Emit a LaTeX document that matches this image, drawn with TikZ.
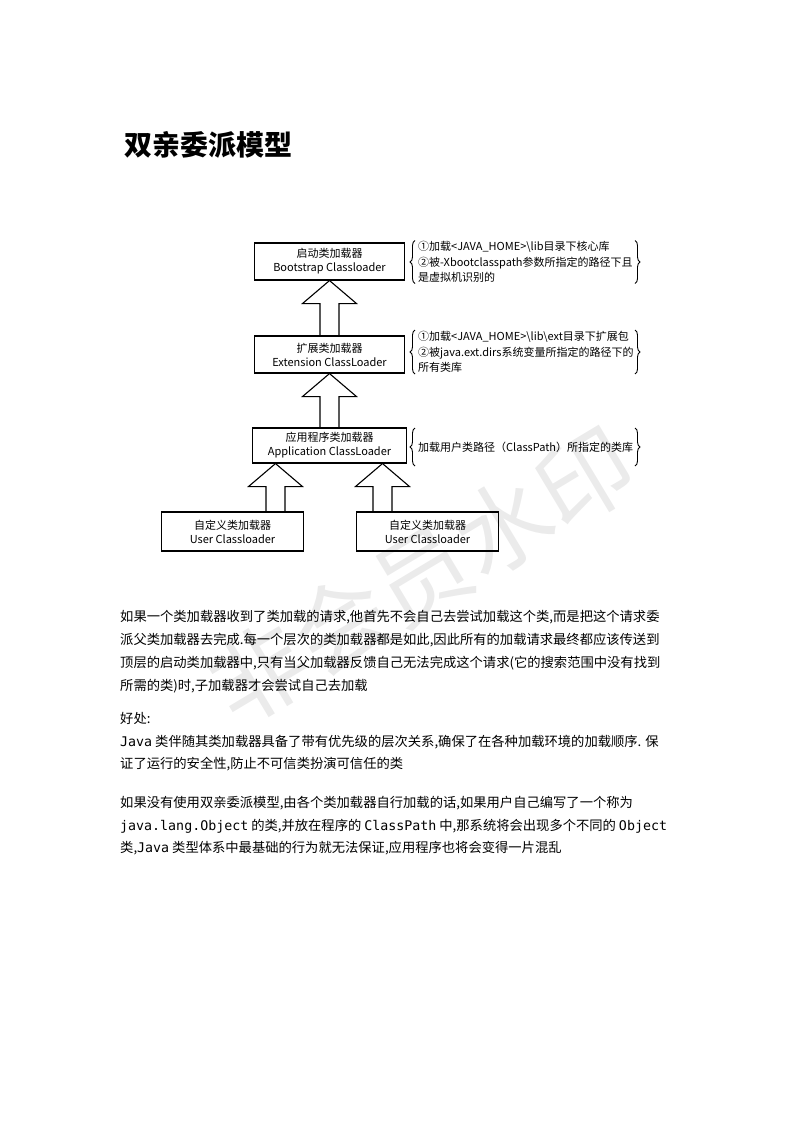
\documentclass[tikz,border=0pt]{standalone}
\usepackage{fontspec}
\setmainfont{Noto Sans CJK SC}
\setmonofont{DejaVu Sans Mono}
\usetikzlibrary{positioning,calc,decorations.pathreplacing}

\tikzset{
  loader/.style={draw, line width=1.1pt, minimum width=150pt, minimum height=37pt,
    align=center, inner sep=0pt, font=\fontsize{11}{14}\selectfont},
  blockarr/.style={draw, line width=1.1pt},
  note/.style={anchor=west, align=left, inner sep=0pt, font=\fontsize{11}{15.3}\selectfont},
  notebrace/.style={draw, decorate, decoration={brace, amplitude=5pt}, line width=0.9pt},
  body/.style={anchor=west, inner sep=0pt, font=\fontsize{13.3}{16}\selectfont},
}

% hollow arrow: #1 = tip, #2 = node edge where the shaft starts
\newcommand{\hollowup}[2]{%
  \draw[blockarr] let \p1=(#1), \p2=(#2) in
    (\x1-9.5pt,\y2) -- (\x1-9.5pt,\y1-23pt) -- (\x1-27pt,\y1-23pt) -- (\x1,\y1)
    -- (\x1+27pt,\y1-23pt) -- (\x1+9.5pt,\y1-23pt) -- (\x1+9.5pt,\y2);}

% braces on both sides of a note: #1 = note, #2 = half height
\newcommand{\notebraces}[2]{%
  \draw[notebrace] ([shift={(-3pt,-#2)}]#1.west) -- ([shift={(-3pt,#2)}]#1.west);
  \draw[notebrace] ([shift={(217pt,#2)}]#1.west) -- ([shift={(217pt,-#2)}]#1.west);}

\begin{document}
\begin{tikzpicture}[x=1pt,y=1pt,node distance=93pt,on grid]
\useasboundingbox (0,0) rectangle (793,-1122);

% watermark
\node[rotate=31, text=black!8, font=\fontsize{95}{95}\selectfont] (mark) at (422,-575) {非会员水印};

\node[anchor=west, font=\fontsize{28}{30}\selectfont\bfseries] (title) at (121,-145) {双亲委派模型};

% loaders
\node[loader] (boot) at (329.5,-261.5) {启动类加载器\\Bootstrap Classloader};
\node[loader] (ext) [below=of boot] {扩展类加载器\\Extension ClassLoader};
\node[loader, minimum width=154pt, minimum height=35pt] (app) [below=91pt of ext] {应用程序类加载器\\Application ClassLoader};
\node[loader, minimum width=142pt, minimum height=39pt] (userA) [below left=86pt and 97pt of app] {自定义类加载器\\User Classloader};
\node[loader, minimum width=142pt, minimum height=39pt] (userB) [below right=86pt and 98pt of app] {自定义类加载器\\User Classloader};

\coordinate (tipA) at ([xshift=-54pt]app.south);
\coordinate (tipB) at ([xshift=53pt]app.south);

\hollowup{boot.south}{ext.north}
\hollowup{ext.south}{app.north}
\hollowup{tipA}{userA.north}
\hollowup{tipB}{userB.north}

% notes
\node[note] (bootnote) at (418,-262) {①加载<JAVA\_HOME>\textbackslash lib目录下核心库\\②被-Xbootclasspath参数所指定的路径下且\\是虚拟机识别的};
\node[note] (extnote) at (418,-352) {①加载<JAVA\_HOME>\textbackslash lib\textbackslash ext目录下扩展包\\②被java.ext.dirs系统变量所指定的路径下的\\所有类库};
\node[note] (appnote) at (418,-447) {加载用户类路径（ClassPath）所指定的类库};

\notebraces{bootnote}{21.5pt}
\notebraces{extnote}{22pt}
\notebraces{appnote}{19pt}

% text
\node[body] (para1a) at (120,-617) {如果一个类加载器收到了类加载的请求,他首先不会自己去尝试加载这个类,而是把这个请求委};
\node[body] (para1b) at (120,-640) {派父类加载器去完成.每一个层次的类加载器都是如此,因此所有的加载请求最终都应该传送到};
\node[body] (para1c) at (120,-663) {顶层的启动类加载器中,只有当父加载器反馈自己无法完成这个请求(它的搜索范围中没有找到};
\node[body] (para1d) at (120,-686) {所需的类)时,子加载器才会尝试自己去加载};

\node[body] (para2a) at (120,-718) {好处:};
\node[body] (para2b) at (120,-742) {\texttt{Java} 类伴随其类加载器具备了带有优先级的层次关系,确保了在各种加载环境的加载顺序. 保};
\node[body] (para2c) at (120,-764) {证了运行的安全性,防止不可信类扮演可信任的类};

\node[body] (para3a) at (120,-803) {如果没有使用双亲委派模型,由各个类加载器自行加载的话,如果用户自己编写了一个称为};
\node[body] (para3b) at (120,-826) {\texttt{java.lang.Object} 的类,并放在程序的 \texttt{ClassPath} 中,那系统将会出现多个不同的 \texttt{Object}};
\node[body] (para3c) at (120,-848) {类,\texttt{Java} 类型体系中最基础的行为就无法保证,应用程序也将会变得一片混乱};
\end{tikzpicture}
\end{document}
